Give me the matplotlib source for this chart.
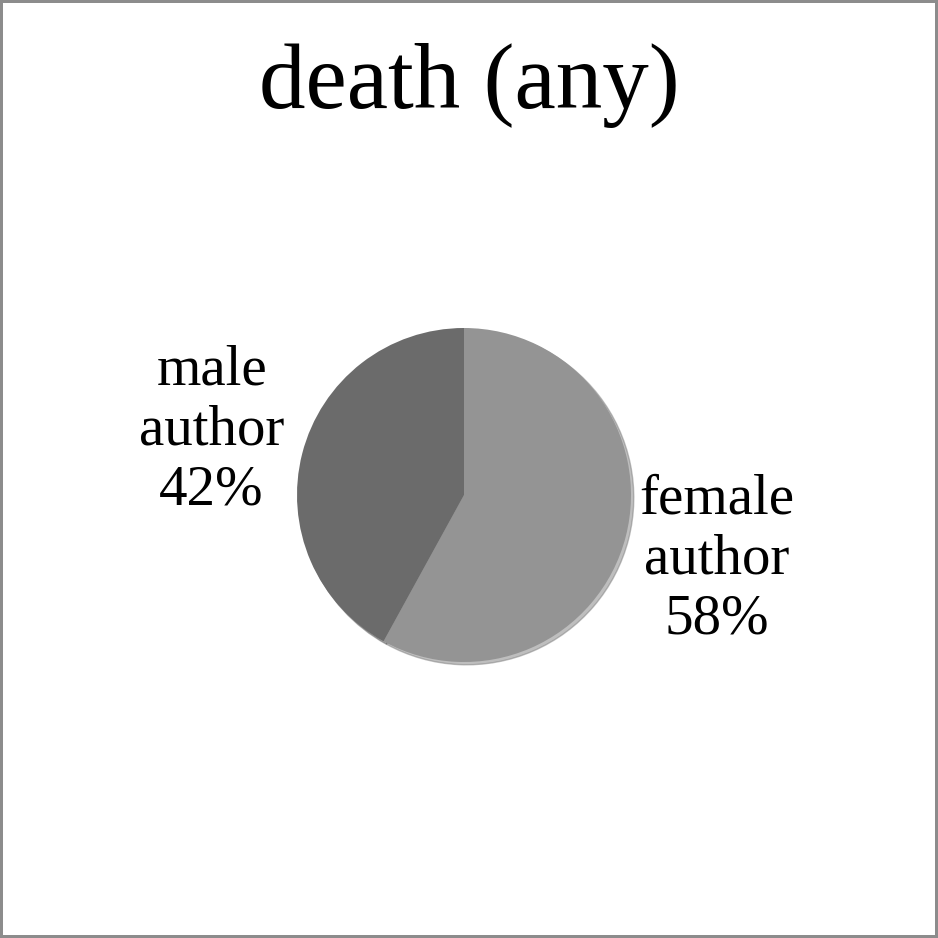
import matplotlib.pyplot as plt

labels = ["female\nauthor", "male\nauthor"]
shares = [58, 42]
colors = ["#949494", "#6b6b6b"]
title = "death (any)"

plt.rcParams['font.family'] = ['Liberation Serif', 'DejaVu Serif']

fig = plt.figure(figsize=(9.38, 9.38), dpi=100, edgecolor="#8c8c8c", linewidth=3)

# pie centre ~ (464, 495) px, radius ~167 px
cx, cy, r = 464, 495, 167
ax = fig.add_axes([(cx - r) / 938, 1 - (cy + r) / 938, 2 * r / 938, 2 * r / 938])

text_labels = [f"{l}\n{s}%" for l, s in zip(labels, shares)]
wedges, texts = ax.pie(shares, labels=text_labels, colors=colors, startangle=90,
                       counterclock=False, radius=1, labeldistance=1.56,
                       textprops=dict(ha="center", va="center", fontsize=41,
                                      linespacing=1.2),
                       shadow=dict(ox=0.012, oy=-0.012, shade=0.15))
ax.set_xlim(-1, 1)
ax.set_ylim(-1, 1)
ax.set_aspect("equal")

fig.text(0.5, 1 - 86 / 938, title, ha="center", va="center", fontsize=67)

fig.savefig("out.png", dpi=100)
